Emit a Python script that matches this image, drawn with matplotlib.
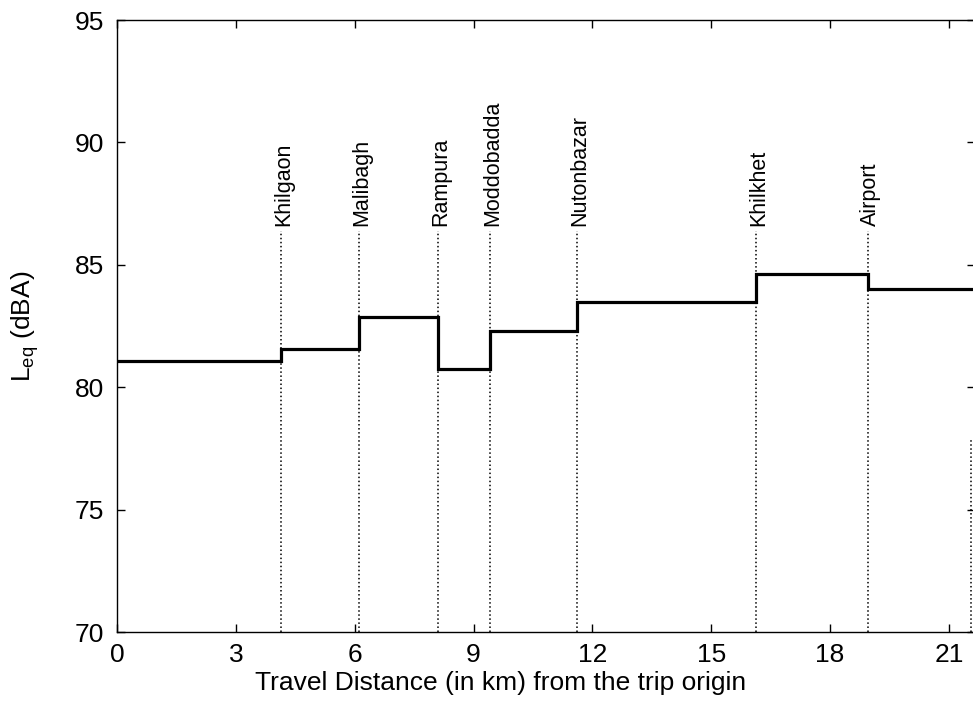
import matplotlib.pyplot as plt
import numpy as np

# step edges (km) and Leq level in each segment
seg_edges = [0, 4.14, 6.11, 8.10, 9.41, 11.61, 16.13, 18.95, 21.66]
leq_levels = [81.05, 81.56, 82.87, 80.74, 82.30, 83.48, 84.62, 84.00]

stations = ["Khilgaon", "Malibagh", "Rampura", "Moddobadda", "Nutonbazar", "Khilkhet", "Airport"]
station_km = [4.14, 6.11, 8.10, 9.41, 11.61, 16.13, 18.95]
last_mark_km = 21.55

xticks = [0, 3, 6, 9, 12, 15, 18, 21]
yticks = [70, 75, 80, 85, 90, 95]

plt.rcParams['font.family'] = ['Liberation Sans', 'DejaVu Sans']

fig = plt.figure(figsize=(9.73, 7.05), dpi=100)
ax = fig.add_axes([117/973, 73/705, 858/973, 612/705])

# station markers
for name, km in zip(stations, station_km):
	ax.plot([km, km], [70, 86.4], color='black', linestyle=':', linewidth=1.1)
	ax.text(km + 0.08, 86.6, name, rotation=90, ha='center', va='bottom', fontsize=15.5)
ax.plot([last_mark_km, last_mark_km], [70, 77.9], color='black', linestyle=':', linewidth=1.1)

ax.stairs(leq_levels, seg_edges, baseline=None, color='black', linewidth=2.3)

ax.set_xlim(0, 21.66)
ax.set_ylim(70, 95)
ax.set_xticks(xticks)
ax.set_yticks(yticks)
ax.tick_params(direction='in', top=True, right=True, length=6, width=1, labelsize=19)
ax.tick_params(axis='x', pad=8)
ax.tick_params(axis='y', pad=9)
for s in ax.spines.values():
	s.set_linewidth(1.0)

ax.set_xlabel("Travel Distance (in km) from the trip origin", fontsize=19)
ax.xaxis.set_label_coords(0.4476, -0.064)
ax.set_ylabel(r"L$_{\mathregular{eq}}$ (dBA)", fontsize=19)
ax.yaxis.set_label_coords(-0.088, 0.5)

fig.savefig("out.png", dpi=100)
